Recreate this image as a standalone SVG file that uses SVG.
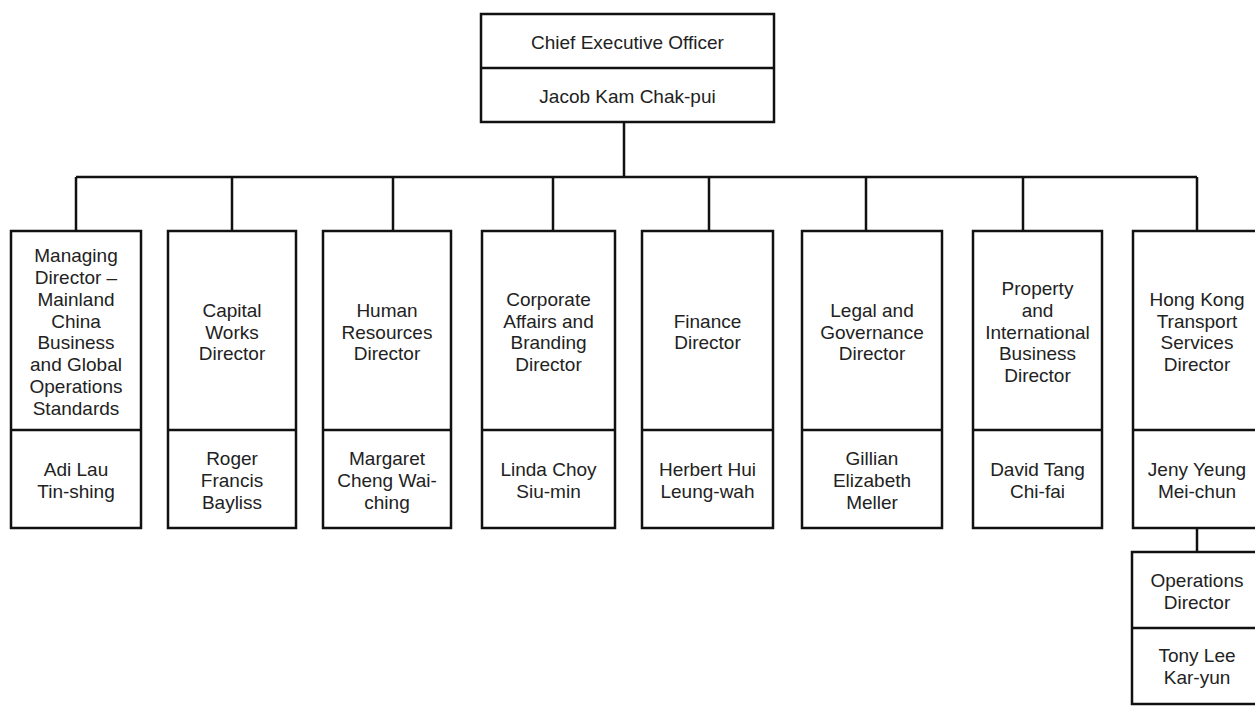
<svg xmlns="http://www.w3.org/2000/svg" width="1255" height="706" viewBox="0 0 1255 706">
<style>
.box{fill:#fff;stroke:#111;stroke-width:2.5}
.div{stroke:#111;stroke-width:2.5}
.con{stroke:#111;stroke-width:2.5;fill:none}
text{font-family:"Liberation Sans",Arial,sans-serif;font-size:19px;fill:#222;text-anchor:middle}
</style>
<rect width="1255" height="706" fill="#fff"/>
<g id="connectors">
<path class="con" d="M624 122V177M76 177H1197M76 177V231M232 177V231M393 177V231M553 177V231M709 177V231M866 177V231M1023 177V231M1197 177V231M1197 528V552"/>
</g>
<g id="ceo">
<rect class="box" x="481" y="14" width="293" height="108"/>
<line class="div" x1="481" y1="68" x2="774" y2="68"/>
<text x="627.5" y="48.5">Chief Executive Officer</text>
<text x="627.5" y="102.5">Jacob Kam Chak-pui</text>
</g>
<g id="md-mainland">
<rect class="box" x="11" y="231" width="130" height="297"/>
<line class="div" x1="11" y1="430" x2="141" y2="430"/>
<text x="76" y="262.2"><tspan x="76">Managing</tspan><tspan x="76" dy="21.8">Director –</tspan><tspan x="76" dy="21.8">Mainland</tspan><tspan x="76" dy="21.8">China</tspan><tspan x="76" dy="21.8">Business</tspan><tspan x="76" dy="21.8">and Global</tspan><tspan x="76" dy="21.8">Operations</tspan><tspan x="76" dy="21.8">Standards</tspan></text>
<text x="76" y="476.1"><tspan x="76">Adi Lau</tspan><tspan x="76" dy="21.8">Tin-shing</tspan></text>
</g>
<g id="capital-works">
<rect class="box" x="168" y="231" width="128" height="297"/>
<line class="div" x1="168" y1="430" x2="296" y2="430"/>
<text x="232" y="316.7"><tspan x="232">Capital</tspan><tspan x="232" dy="21.8">Works</tspan><tspan x="232" dy="21.8">Director</tspan></text>
<text x="232" y="465.2"><tspan x="232">Roger</tspan><tspan x="232" dy="21.8">Francis</tspan><tspan x="232" dy="21.8">Bayliss</tspan></text>
</g>
<g id="human-resources">
<rect class="box" x="323" y="231" width="128" height="297"/>
<line class="div" x1="323" y1="430" x2="451" y2="430"/>
<text x="387" y="316.7"><tspan x="387">Human</tspan><tspan x="387" dy="21.8">Resources</tspan><tspan x="387" dy="21.8">Director</tspan></text>
<text x="387" y="465.2"><tspan x="387">Margaret</tspan><tspan x="387" dy="21.8">Cheng Wai-</tspan><tspan x="387" dy="21.8">ching</tspan></text>
</g>
<g id="corporate-affairs">
<rect class="box" x="482" y="231" width="133" height="297"/>
<line class="div" x1="482" y1="430" x2="615" y2="430"/>
<text x="548.5" y="305.8"><tspan x="548.5">Corporate</tspan><tspan x="548.5" dy="21.8">Affairs and</tspan><tspan x="548.5" dy="21.8">Branding</tspan><tspan x="548.5" dy="21.8">Director</tspan></text>
<text x="548.5" y="476.1"><tspan x="548.5">Linda Choy</tspan><tspan x="548.5" dy="21.8">Siu-min</tspan></text>
</g>
<g id="finance">
<rect class="box" x="642" y="231" width="131" height="297"/>
<line class="div" x1="642" y1="430" x2="773" y2="430"/>
<text x="707.5" y="327.6"><tspan x="707.5">Finance</tspan><tspan x="707.5" dy="21.8">Director</tspan></text>
<text x="707.5" y="476.1"><tspan x="707.5">Herbert Hui</tspan><tspan x="707.5" dy="21.8">Leung-wah</tspan></text>
</g>
<g id="legal-governance">
<rect class="box" x="802" y="231" width="140" height="297"/>
<line class="div" x1="802" y1="430" x2="942" y2="430"/>
<text x="872" y="316.7"><tspan x="872">Legal and</tspan><tspan x="872" dy="21.8">Governance</tspan><tspan x="872" dy="21.8">Director</tspan></text>
<text x="872" y="465.2"><tspan x="872">Gillian</tspan><tspan x="872" dy="21.8">Elizabeth</tspan><tspan x="872" dy="21.8">Meller</tspan></text>
</g>
<g id="property-international">
<rect class="box" x="973" y="231" width="129" height="297"/>
<line class="div" x1="973" y1="430" x2="1102" y2="430"/>
<text x="1037.5" y="294.9"><tspan x="1037.5">Property</tspan><tspan x="1037.5" dy="21.8">and</tspan><tspan x="1037.5" dy="21.8">International</tspan><tspan x="1037.5" dy="21.8">Business</tspan><tspan x="1037.5" dy="21.8">Director</tspan></text>
<text x="1037.5" y="476.1"><tspan x="1037.5">David Tang</tspan><tspan x="1037.5" dy="21.8">Chi-fai</tspan></text>
</g>
<g id="hk-transport">
<rect class="box" x="1133" y="231" width="128" height="297"/>
<line class="div" x1="1133" y1="430" x2="1261" y2="430"/>
<text x="1197" y="305.8"><tspan x="1197">Hong Kong</tspan><tspan x="1197" dy="21.8">Transport</tspan><tspan x="1197" dy="21.8">Services</tspan><tspan x="1197" dy="21.8">Director</tspan></text>
<text x="1197" y="476.1"><tspan x="1197">Jeny Yeung</tspan><tspan x="1197" dy="21.8">Mei-chun</tspan></text>
</g>
<g id="operations">
<rect class="box" x="1132" y="552" width="129" height="152"/>
<line class="div" x1="1132" y1="628" x2="1261" y2="628"/>
<text x="1197" y="587.1"><tspan x="1197">Operations</tspan><tspan x="1197" dy="21.8">Director</tspan></text>
<text x="1197" y="662.1"><tspan x="1197">Tony Lee</tspan><tspan x="1197" dy="21.8">Kar-yun</tspan></text>
</g>
</svg>
